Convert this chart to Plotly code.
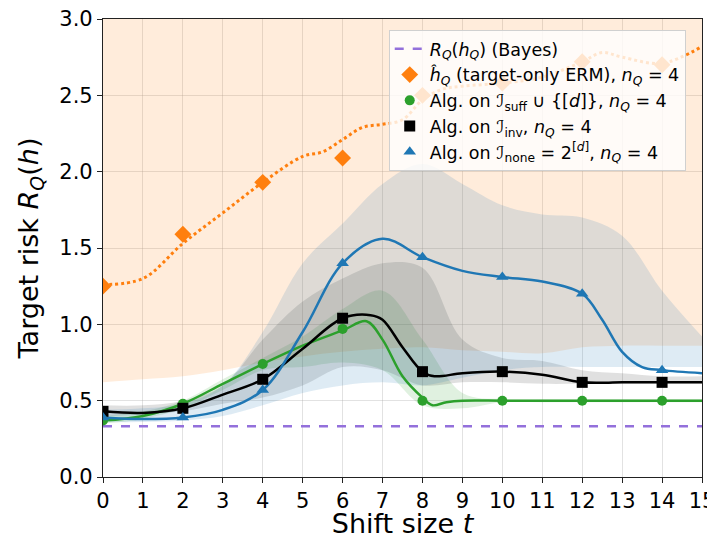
import plotly.graph_objects as go

# ---------------- data ----------------
bayes_risk = 0.333

t_marks = [0, 2, 4, 6, 8, 10, 12, 14]
erm_marks = [1.25, 1.59, 1.93, 2.09, 2.50, 2.58, 2.72, 2.70]
suff_marks = [0.37, 0.48, 0.74, 0.97, 0.50, 0.50, 0.50, 0.50]
inv_marks = [0.43, 0.45, 0.64, 1.04, 0.69, 0.69, 0.62, 0.62]
none_marks = [0.39, 0.39, 0.57, 1.40, 1.44, 1.31, 1.20, 0.70]

erm_line_t = [0, 1, 2, 3, 4, 5, 5.5, 6, 6.5, 7, 7.5, 8, 8.5, 9, 10, 11, 12, 12.5, 13, 14, 15]
erm_line = [1.26, 1.30, 1.53, 1.73, 1.93, 2.10, 2.13, 2.21, 2.29, 2.31, 2.34, 2.47, 2.54, 2.56, 2.58, 2.62, 2.72, 2.78, 2.75, 2.71, 2.82]

suff_line_t = [0, 1, 2, 3, 4, 5, 6, 6.6, 7, 7.5, 8, 8.25, 8.6, 9, 10, 11, 12, 13, 14, 15]
suff_line = [0.37, 0.40, 0.48, 0.61, 0.74, 0.86, 0.96, 1.02, 0.90, 0.66, 0.52, 0.47, 0.49, 0.50, 0.50, 0.50, 0.50, 0.50, 0.50, 0.50]

inv_line_t = [0, 1, 2, 3, 4, 5, 6, 6.7, 7, 7.5, 8, 8.3, 9, 10, 11, 12, 13, 14, 15]
inv_line = [0.43, 0.42, 0.45, 0.54, 0.64, 0.84, 1.04, 1.06, 1.03, 0.85, 0.69, 0.66, 0.68, 0.69, 0.67, 0.62, 0.62, 0.62, 0.62]

none_line_t = [0, 1, 2, 3, 4, 5, 6, 7, 8, 9, 10, 11, 12, 12.5, 13, 13.5, 14, 15]
none_line = [0.39, 0.38, 0.39, 0.44, 0.57, 0.95, 1.40, 1.56, 1.44, 1.35, 1.31, 1.28, 1.20, 1.03, 0.82, 0.72, 0.70, 0.68]

band_t = [0, 1, 2, 3, 4, 5, 6, 7, 8, 9, 10, 11, 12, 13, 14, 15]
erm_lo = [0.62, 0.64, 0.66, 0.70, 0.75, 0.79, 0.82, 0.84, 0.85, 0.83, 0.82, 0.81, 0.85, 0.86, 0.86, 0.86]
erm_hi = [4.0, 4.0, 4.0, 4.0, 4.0, 4.0, 4.0, 4.0, 4.0, 4.0, 4.0, 4.0, 4.0, 4.0, 4.0, 4.0]
none_lo = [0.36, 0.36, 0.37, 0.40, 0.47, 0.55, 0.60, 0.62, 0.60, 0.65, 0.70, 0.72, 0.72, 0.72, 0.72, 0.72]
none_hi = [0.44, 0.45, 0.48, 0.60, 0.95, 1.40, 1.66, 1.92, 2.05, 1.92, 1.78, 1.72, 1.70, 1.58, 1.22, 0.92]
inv_lo = [0.40, 0.41, 0.43, 0.48, 0.52, 0.60, 0.72, 0.70, 0.60, 0.62, 0.62, 0.61, 0.61, 0.61, 0.61, 0.61]
inv_hi = [0.47, 0.47, 0.50, 0.60, 0.90, 1.15, 1.30, 1.40, 1.37, 0.90, 0.78, 0.76, 0.70, 0.68, 0.66, 0.66]
suff_lo = [0.35, 0.38, 0.45, 0.57, 0.70, 0.72, 0.75, 0.70, 0.47, 0.45, 0.49, 0.49, 0.49, 0.49, 0.49, 0.49]
suff_hi = [0.40, 0.43, 0.50, 0.64, 0.78, 0.92, 1.10, 1.22, 0.90, 0.55, 0.51, 0.51, 0.51, 0.51, 0.51, 0.51]

x_ticks = list(range(0, 16))
y_ticks = [0.0, 0.5, 1.0, 1.5, 2.0, 2.5, 3.0]

ORANGE = '#ff7f0e'
GREEN = '#2ca02c'
BLACK = '#000000'
BLUE = '#1f77b4'
PURPLE = '#9370db'

fig = go.Figure()

def band(lo, hi, rgba):
    fig.add_trace(go.Scatter(x=band_t, y=lo, mode='lines', line=dict(width=0, shape='spline'),
                             showlegend=False, hoverinfo='skip'))
    fig.add_trace(go.Scatter(x=band_t, y=hi, mode='lines', line=dict(width=0, shape='spline'),
                             fill='tonexty', fillcolor=rgba, showlegend=False, hoverinfo='skip'))

band(erm_lo, erm_hi, 'rgba(255,127,14,0.15)')
band(suff_lo, suff_hi, 'rgba(44,160,44,0.15)')
band(inv_lo, inv_hi, 'rgba(0,0,0,0.12)')
band(none_lo, none_hi, 'rgba(31,119,180,0.15)')

# Bayes line
fig.add_trace(go.Scatter(x=[0, 15], y=[bayes_risk, bayes_risk], mode='lines',
                         line=dict(color=PURPLE, width=2.5, dash='dash'),
                         name='<i>R</i><sub><i>Q</i></sub>(<i>h</i><sub><i>Q</i></sub>) (Bayes)'))

# smoothed lines
fig.add_trace(go.Scatter(x=erm_line_t, y=erm_line, mode='lines',
                         line=dict(color=ORANGE, width=3, dash='dot', shape='spline'), showlegend=False))
fig.add_trace(go.Scatter(x=suff_line_t, y=suff_line, mode='lines',
                         line=dict(color=GREEN, width=2.5, shape='spline'), showlegend=False))
fig.add_trace(go.Scatter(x=inv_line_t, y=inv_line, mode='lines',
                         line=dict(color=BLACK, width=2.5, shape='spline'), showlegend=False))
fig.add_trace(go.Scatter(x=none_line_t, y=none_line, mode='lines',
                         line=dict(color=BLUE, width=2.5, shape='spline'), showlegend=False))

# markers
fig.add_trace(go.Scatter(x=t_marks, y=erm_marks, mode='markers',
                         marker=dict(symbol='diamond', size=13, color=ORANGE),
                         name='<i>ĥ</i><sub><i>Q</i></sub> (target-only ERM), <i>n</i><sub><i>Q</i></sub> = 4'))
fig.add_trace(go.Scatter(x=t_marks, y=suff_marks, mode='markers',
                         marker=dict(symbol='circle', size=10, color=GREEN),
                         name='Alg. on ℐ<sub>suff</sub> ∪ {[<i>d</i>]}, <i>n</i><sub><i>Q</i></sub> = 4'))
fig.add_trace(go.Scatter(x=t_marks, y=inv_marks, mode='markers',
                         marker=dict(symbol='square', size=11, color=BLACK),
                         name='Alg. on ℐ<sub>inv</sub>, <i>n</i><sub><i>Q</i></sub> = 4'))
fig.add_trace(go.Scatter(x=t_marks, y=none_marks, mode='markers',
                         marker=dict(symbol='triangle-up', size=11, color=BLUE),
                         name='Alg. on ℐ<sub>none</sub> = 2<sup>[<i>d</i>]</sup>, <i>n</i><sub><i>Q</i></sub> = 4'))

axis_common = dict(showline=True, linecolor='#222', linewidth=1.2, mirror=True,
                   ticks='outside', ticklen=5, tickwidth=1.2, tickcolor='#222',
                   showgrid=True, gridcolor='rgba(160,160,160,0.3)', gridwidth=1,
                   zeroline=False, tickfont=dict(size=21, color='black'),
                   automargin=False, ticklabeloverflow='allow')

fig.update_xaxes(range=[0, 15], tickvals=x_ticks, ticktext=[str(v) for v in x_ticks],
                 title=dict(text='Shift size <i>t</i>', font=dict(size=27), standoff=2), **axis_common)
fig.update_yaxes(range=[0, 3], tickvals=y_ticks, ticktext=['%.1f' % v for v in y_ticks],
                 title=dict(text='Target risk <i>R</i><sub><i>Q</i></sub>(<i>h</i>)', font=dict(size=27), standoff=12),
                 **axis_common)

# page body has an 8px margin; the figure is sized so that the plot area lands where the reference has it
fig.update_layout(
    width=707, height=531,
    margin=dict(l=95, r=13, t=11, b=62),
    plot_bgcolor='white', paper_bgcolor='white',
    font=dict(family='DejaVu Sans', color='black'),
    legend=dict(x=0.477, y=0.976, xanchor='left', yanchor='top', traceorder='normal',
                bgcolor='rgba(255,255,255,0.8)', bordercolor='#d0d0d0', borderwidth=1,
                font=dict(size=17.5), itemwidth=30, tracegroupgap=0),
)

fig.write_html('out.html')
